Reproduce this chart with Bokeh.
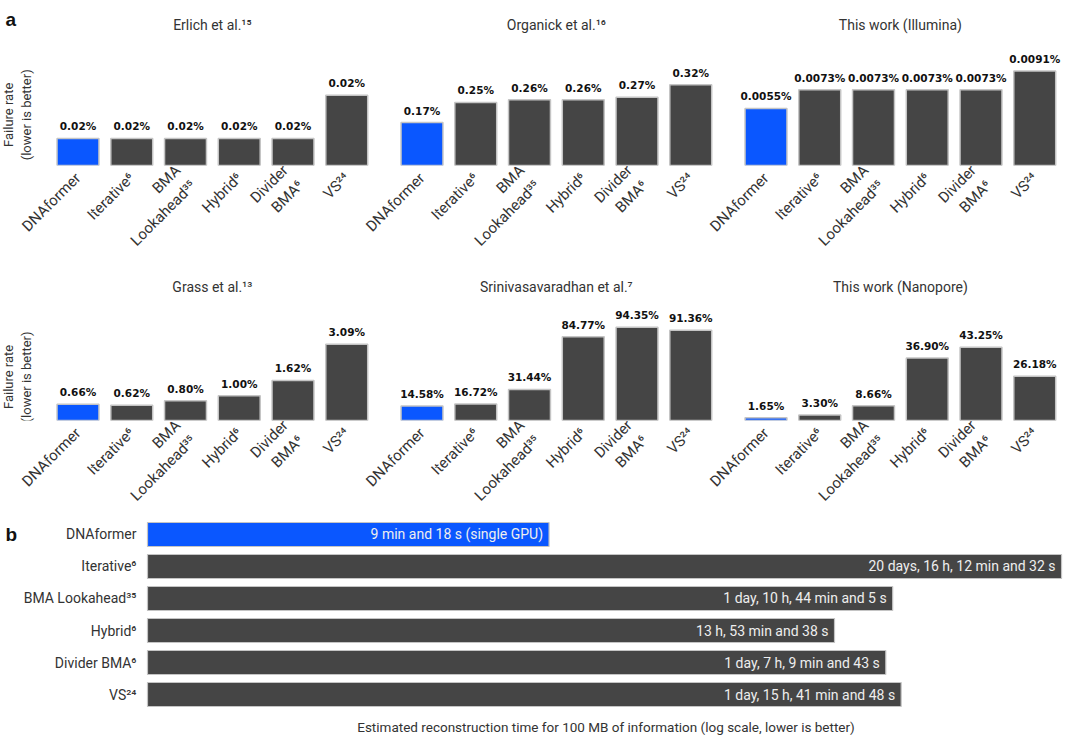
import math
from bokeh.plotting import figure
from bokeh.models import Range1d, FixedTicker, ColumnDataSource
from bokeh.layouts import column
from bokeh.embed import file_html
from bokeh.resources import INLINE
from bokeh.core.properties import value

# ---------------- data ----------------
methods = ["DNAformer", "Iterative⁶", "BMA\nLookahead³⁵", "Hybrid⁶", "Divider\nBMA⁶", "VS²⁴"]

row1_titles = ["Erlich et al.¹⁵", "Organick et al.¹⁶", "This work (Illumina)"]
row2_titles = ["Grass et al.¹³", "Srinivasavaradhan et al.⁷", "This work (Nanopore)"]

erlich = [0.016, 0.016, 0.016, 0.016, 0.016, 0.024]
organick = [0.17, 0.25, 0.26, 0.26, 0.27, 0.32]
illumina = [0.0055, 0.0073, 0.0073, 0.0073, 0.0073, 0.0091]
grass = [0.66, 0.62, 0.80, 1.00, 1.62, 3.09]
srinivasavaradhan = [14.58, 16.72, 31.44, 84.77, 94.35, 91.36]
nanopore = [1.65, 3.30, 8.66, 36.90, 43.25, 26.18]

row1_decimals = [2, 2, 4]
row2_decimals = [2, 2, 2]

time_methods = ["DNAformer", "Iterative⁶", "BMA Lookahead³⁵", "Hybrid⁶", "Divider BMA⁶", "VS²⁴"]
time_seconds = [558, 1786352, 125045, 50018, 112183, 142908]
time_labels = ["9 min and 18 s (single GPU)", "20 days, 16 h, 12 min and 32 s",
               "1 day, 10 h, 44 min and 5 s", "13 h, 53 min and 38 s",
               "1 day, 7 h, 9 min and 43 s", "1 day, 15 h, 41 min and 48 s"]
time_axis_label = "Estimated reconstruction time for 100 MB of information (log scale, lower is better)"
y_label = "Failure rate\n(lower is better)"

# ---------------- style / layout ----------------
BLUE = "#0a57ff"
GRAY = "#454545"
EDGE = "#c4c4c4"
TXT = "#333333"
FONT = "Roboto"
W = 1064
PX = 5.375        # pixels per x unit
UNIT = 10         # x units between bars
GAP = 64          # x units between panels
x_start = -77.5 / PX
x_end = x_start + W / PX

row1_yr = [(0.01097, 0.04157), (0, 0.6535), (0, 0.01589)]
row2_yr = [(0, 6.235), (0, 155.9), (0, 90.9)]


def row_fig(titles, series, decimals, yranges, height, frame_h, title_y, ylab_y, letter):
    p = figure(width=W, height=height, output_backend="svg", toolbar_location=None,
               x_range=Range1d(x_start, x_end), y_range=Range1d(0, frame_h),
               y_axis_type=None, min_border_left=0, min_border_right=0,
               min_border_top=0, min_border_bottom=height - frame_h)
    p.outline_line_color = None
    p.grid.visible = False
    ticks = []
    overrides = {}
    for j, vals in enumerate(series):
        name = "p%d" % j
        s, e = yranges[j]
        p.extra_y_ranges[name] = Range1d(s, e)
        pos = [j * GAP + i * UNIT for i in range(len(methods))]
        colors = [BLUE if m == "DNAformer" else GRAY for m in methods]
        src = ColumnDataSource(dict(x=pos, top=vals, bottom=[s] * len(vals), color=colors,
                                    label=["%.*f%%" % (decimals[j], v) for v in vals]))
        p.vbar(x="x", top="top", bottom="bottom", width=7.8, fill_color="color",
               line_color=EDGE, line_width=1.5, y_range_name=name, source=src)
        p.text(x="x", y="top", text="label", y_range_name=name, source=src,
               text_align="center", text_baseline="bottom", y_offset=-6,
               text_font=value("DejaVu Sans"), text_font_style="bold",
               text_font_size="10.5px", text_color="#111111")
        p.text(x=[j * GAP + 2.5 * UNIT], y=[title_y], text=[titles[j]],
               text_align="center", text_baseline="middle", text_font=value(FONT),
               text_font_size="14px", text_color=TXT)
        ticks += pos
        for pp, m in zip(pos, methods):
            overrides[pp] = m
    p.text(x=[x_start + 17 / PX], y=[ylab_y], text=[y_label], angle=math.pi / 2,
           text_align="center", text_baseline="middle", text_font=value(FONT),
           text_font_size="13px", text_color=TXT)
    if letter:
        p.text(x=[x_start + 5 / PX], y=[frame_h - 9], text=[letter], text_align="left",
               text_baseline="top", text_font=value("Liberation Sans"),
               text_font_style="bold", text_font_size="19px", text_color="#111111")
    ax = p.xaxis[0]
    ax.ticker = FixedTicker(ticks=ticks, minor_ticks=[])
    ax.major_label_overrides = overrides
    ax.major_label_orientation = math.pi / 4
    ax.axis_line_color = None
    ax.major_tick_line_color = None
    ax.minor_tick_line_color = None
    ax.major_label_standoff = 4
    ax.major_label_text_font = FONT
    ax.major_label_text_font_size = "15px"
    ax.major_label_text_color = TXT
    return p


p1 = row_fig(row1_titles, [erlich, organick, illumina], row1_decimals, row1_yr,
             266, 166, 141, 51, "a")
p2 = row_fig(row2_titles, [grass, srinivasavaradhan, nanopore], row2_decimals, row2_yr,
             255, 159, 138, 45, "")

# ---------------- panel b ----------------
n = len(time_methods)
bx_start, bx_end = 10 ** (-147 / 146.2), 10 ** ((W - 147) / 146.2)
label_y = 6.0
pb = figure(width=W, height=214, output_backend="svg", toolbar_location=None,
            x_axis_type="log", x_axis_location=None, y_axis_location=None,
            x_range=Range1d(bx_start, bx_end), y_range=Range1d(6.281, -0.406),
            min_border=0)
pb.outline_line_color = None
pb.grid.visible = False
idx = list(range(n))
bcolors = [BLUE if m == "DNAformer" else GRAY for m in time_methods]
bsrc = ColumnDataSource(dict(y=idx, right=time_seconds, left=[1] * n, color=bcolors,
                             label=time_labels, name=time_methods))
pb.hbar(y="y", left="left", right="right", height=0.75, fill_color="color",
        line_color=EDGE, line_width=1.2, source=bsrc)
pb.text(x="right", y="y", text="label", source=bsrc, x_offset=-6, text_align="right",
        text_baseline="middle", text_font=value(FONT), text_font_size="14px",
        text_color="#eeeeee")
pb.text(x="left", y="y", text="name", source=bsrc, x_offset=-11, text_align="right",
        text_baseline="middle", text_font=value(FONT), text_font_size="14px",
        text_color=TXT)
pb.text(x=[bx_start], y=[0], text=["b"], text_align="left", text_baseline="middle",
        x_offset=5, text_font=value("Liberation Sans"), text_font_style="bold",
        text_font_size="19px", text_color="#111111")
pb.text(x=[math.sqrt(1 * bx_end)], y=[label_y], text=[time_axis_label], text_align="center",
        text_baseline="middle", text_font=value(FONT), text_font_size="13.5px",
        text_color=TXT)

layout = column(p1, p2, pb, spacing=0)
open("out.html", "w").write(file_html(layout, INLINE))
